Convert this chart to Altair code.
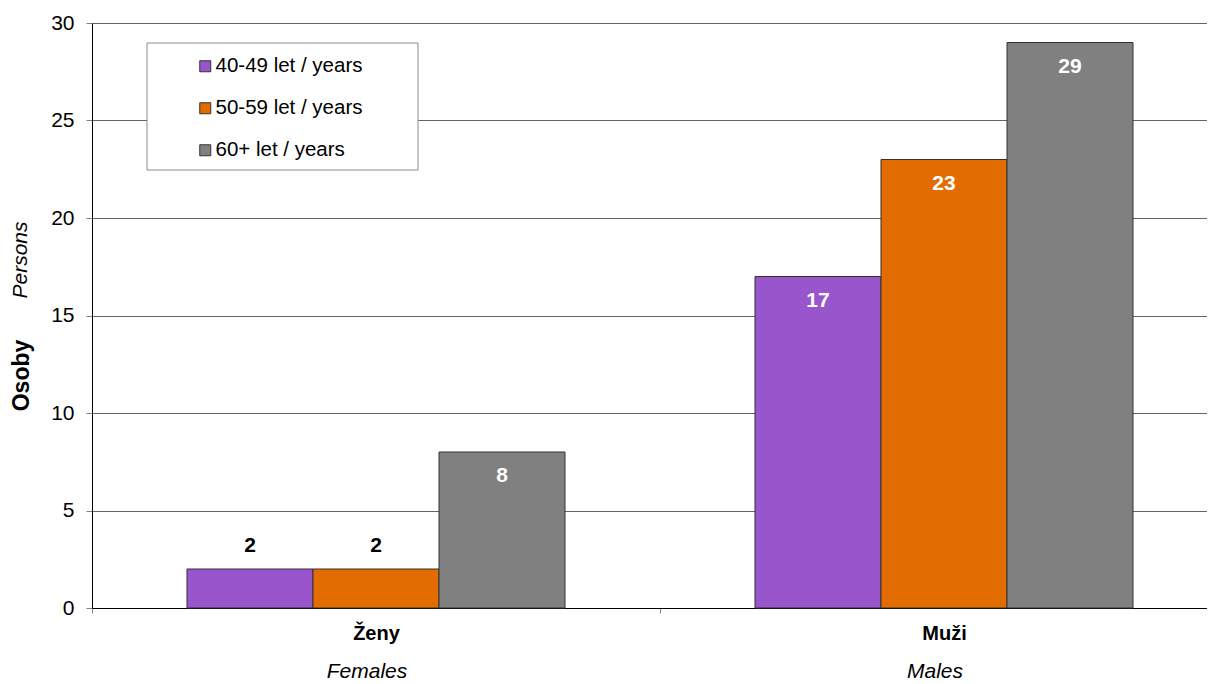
import altair as alt
import pandas as pd

sex_cz = ["Ženy", "Muži"]
sex_en = ["Females", "Males"]
groups = ["40-49 let / years", "50-59 let / years", "60+ let / years"]
values_f = [2, 2, 8]
values_m = [17, 23, 29]
colors = ["#9955CC", "#E36C00", "#808080"]
y_ticks = [0, 5, 10, 15, 20, 25, 30]

rows = []
for s, en, vals in [(sex_cz[0], sex_en[0], values_f), (sex_cz[1], sex_en[1], values_m)]:
    for g, v in zip(groups, vals):
        rows.append({"sex": s, "en": en, "group": g, "value": v})
df = pd.DataFrame(rows)
df_en = pd.DataFrame({"sex": sex_cz, "en": sex_en})

FONT = "Liberation Sans, Arial, sans-serif"

x_enc = alt.X(
    "sex:N",
    sort=sex_cz,
    title=None,
    scale=alt.Scale(range=[0, 1136], paddingInner=0.3345, paddingOuter=0.16725),
    axis=alt.Axis(
        labelFontWeight="bold",
        labelFontSize=20,
        labelColor="black",
        labelPadding=10,
        tickBand="center",
        tickOffset=-284,
        labelOffset=284,
        tickSize=5,
        tickColor="#808080",
        domainColor="black",
        labelAngle=0,
        grid=False,
    ),
)
y_enc = alt.Y(
    "value:Q",
    scale=alt.Scale(domain=[0, 30], nice=False),
    axis=alt.Axis(
        values=y_ticks,
        title="Osoby",
        titleFontWeight="bold",
        titleFontSize=23,
        titleAngle=270,
        titleX=-71,
        titleY=352,
        titleAlign="center",
        titleBaseline="middle",
        labelFontSize=21,
        labelColor="black",
        labelPadding=12,
        tickSize=6,
        tickColor="#808080",
        domainColor="black",
        grid=True,
        gridColor="#666666",
        gridWidth=1,
    ),
)

legend_box = alt.Chart(alt.Data(values=[{}])).mark_rect(
    fill="white", stroke="#8c8c8c", strokeWidth=1
).encode(
    x=alt.value(55), x2=alt.value(326), y=alt.value(20), y2=alt.value(147)
)

bars = alt.Chart(df).mark_bar(stroke="#333333", strokeWidth=1).encode(
    x=x_enc,
    xOffset=alt.XOffset("group:N", sort=groups, scale=alt.Scale(paddingInner=0, paddingOuter=0)),
    y=y_enc,
    color=alt.Color(
        "group:N",
        sort=groups,
        scale=alt.Scale(domain=groups, range=colors),
        legend=alt.Legend(
            title=None,
            orient="none",
            legendX=103,
            legendY=33,
            symbolType="square",
            symbolSize=121,
            symbolStrokeColor="#333333",
            symbolStrokeWidth=1,
            labelFontSize=20.5,
            labelColor="black",
            labelOffset=0,
            rowPadding=21,
            padding=0,
        ),
    ),
)

base_txt = alt.Chart(df).encode(
    x=alt.X("sex:N", sort=sex_cz),
    xOffset=alt.XOffset("group:N", sort=groups),
    y=alt.Y("value:Q"),
    text=alt.Text("value:Q"),
)
txt_in = base_txt.transform_filter("datum.value >= 5").mark_text(
    color="white", fontWeight="bold", fontSize=21, baseline="middle", dy=24, font=FONT
)
txt_out = base_txt.transform_filter("datum.value < 5").mark_text(
    color="black", fontWeight="bold", fontSize=21, baseline="middle", dy=-23, font=FONT
)

en_labels = alt.Chart(df_en).mark_text(
    fontStyle="italic", fontSize=21, baseline="middle", dx=-9, color="black", font=FONT
).encode(
    x=alt.X("sex:N", sort=sex_cz),
    y=alt.value(649),
    text="en:N",
)

persons = alt.Chart(alt.Data(values=[{"t": "Persons"}])).mark_text(
    fontStyle="italic", fontSize=21, angle=270, baseline="middle", align="center", color="black", font=FONT
).encode(x=alt.value(-71), y=alt.value(237), text="t:N")

chart = alt.layer(legend_box, bars, txt_in, txt_out, en_labels, persons).properties(
    width=1115,
    height=585,
    autosize=alt.AutoSizeParams(type="none"),
    padding={"left": 84, "top": 15, "right": 0, "bottom": 76},
).configure(font=FONT).configure_view(stroke=None)

chart.save("out.html", embed_options={"renderer": "svg", "actions": False})
